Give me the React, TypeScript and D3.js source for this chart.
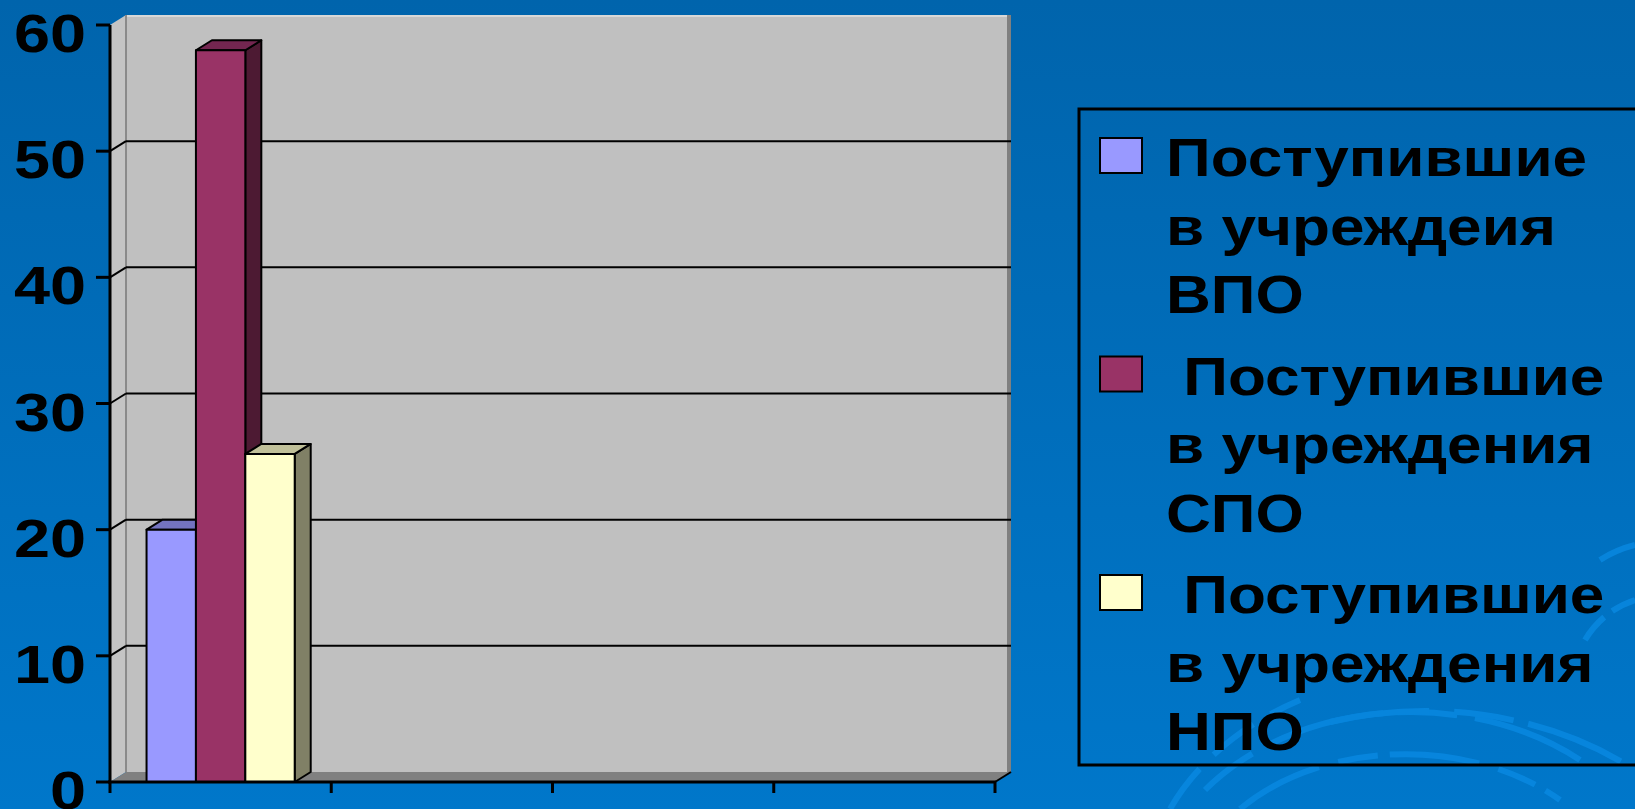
import React from "react";
import * as d3 from "d3";

const categories = ["1", "2", "3", "4"];
const seriesNames = [
  ["Поступившие", "в учреждеия", "ВПО"],
  [" Поступившие", "в учреждения", "СПО"],
  [" Поступившие", "в учреждения", "НПО"],
];
const vpoValues: (number | null)[] = [20, null, null, null];
const spoValues: (number | null)[] = [58, null, null, null];
const npoValues: (number | null)[] = [26, null, null, null];
const yTicks = [0, 10, 20, 30, 40, 50, 60];

const seriesValues = [vpoValues, spoValues, npoValues];
const seriesColors = [
  { front: "#9999FF", side: "#4C4C80", top: "#7373C0" },
  { front: "#993366", side: "#4D1A33", top: "#732650" },
  { front: "#FFFFCC", side: "#808066", top: "#C0C099" },
];

const W = 1635;
const H = 809;
const DX = 16;
const DY = -10;
const FONT = "'Liberation Sans', Arial, sans-serif";
const STRETCH = 1.15;

export default function App() {
  const y = d3.scaleLinear().domain([0, 60]).range([782, 25]);
  const x0 = d3.scaleBand<string>().domain(categories).range([110, 995]).paddingInner(0).paddingOuter(0);
  const x1 = d3
    .scaleBand<number>()
    .domain([0, 1, 2])
    .range([0, x0.bandwidth()])
    .paddingInner(0)
    .paddingOuter(0.74);

  const x0Start = 110;
  const x0End = 995;
  const y0 = y(0);
  const yTop = y(60);

  const bars: React.ReactNode[] = [];
  categories.forEach((c, ci) => {
    seriesValues.forEach((vals, si) => {
      const v = vals[ci];
      if (v == null) return;
      const bx = (x0(c) as number) + (x1(si) as number);
      const bw = x1.bandwidth();
      const by = y(v);
      const col = seriesColors[si];
      bars.push(
        <g key={`b-${ci}-${si}`} stroke="#000" strokeWidth={2} strokeLinejoin="round">
          <polygon
            points={`${bx + bw},${by} ${bx + bw + DX},${by + DY} ${bx + bw + DX},${y0 + DY} ${bx + bw},${y0}`}
            fill={col.side}
          />
          <polygon
            points={`${bx},${by} ${bx + DX},${by + DY} ${bx + bw + DX},${by + DY} ${bx + bw},${by}`}
            fill={col.top}
          />
          <rect x={bx} y={by} width={bw} height={y0 - by} fill={col.front} />
        </g>
      );
    });
  });

  const legendBaseY = 176;
  const entryStep = 218.5;
  const lineStep = 68.5;

  return (
    <svg
      width={W}
      height={H}
      viewBox={`0 0 ${W} ${H}`}
      style={{ position: "absolute", left: 0, top: 0, display: "block" }}
      fontFamily={FONT}
    >
      <defs>
        <linearGradient id="bg" x1="0" y1="0" x2="0" y2="1">
          <stop offset="0" stopColor="#0064AC" />
          <stop offset="1" stopColor="#0077CA" />
        </linearGradient>
      </defs>
      <rect x={0} y={0} width={W} height={H} fill="url(#bg)" />

      {/* decorative ripples */}
      <g fill="none" stroke="#0A8BE4" strokeWidth={6} opacity={0.75}>
        <path d="M1205,790 A260,200 0 0 1 1580,760" strokeDasharray="60 18 120 14" />
        <path d="M1240,809 A220,160 0 0 1 1560,800" strokeDasharray="90 20 40 12" />
        <path d="M1170,809 A300,230 0 0 1 1300,700" strokeDasharray="50 20" />
        <path d="M1330,722 A330,260 0 0 1 1635,770" strokeDasharray="100 25 60 15" />
        <path d="M1600,560 A120,120 0 0 1 1635,545" />
        <path d="M1585,640 A90,90 0 0 1 1635,600" strokeDasharray="30 10" />
      </g>

      {/* back wall */}
      <rect
        x={x0Start + DX}
        y={yTop + DY}
        width={x0End + DX - (x0Start + DX)}
        height={y0 - yTop}
        fill="#C0C0C0"
      />
      <line x1={x0Start + DX} y1={yTop + DY + 1} x2={x0End + DX} y2={yTop + DY + 1} stroke="#D8D8D8" strokeWidth={2} />
      <line x1={x0End + DX - 2} y1={yTop + DY} x2={x0End + DX - 2} y2={y0 + DY} stroke="#808080" strokeWidth={4} />
      {/* side wall */}
      <polygon
        points={`${x0Start},${y0} ${x0Start},${yTop} ${x0Start + DX},${yTop + DY} ${x0Start + DX},${y0 + DY}`}
        fill="#C4C4C4"
      />
      <line x1={x0Start + DX} y1={yTop + DY} x2={x0Start + DX} y2={y0 + DY} stroke="#8A8A8A" strokeWidth={2} />
      {/* floor */}
      <polygon
        points={`${x0Start},${y0} ${x0End},${y0} ${x0End + DX},${y0 + DY} ${x0Start + DX},${y0 + DY}`}
        fill="#808080"
      />

      {/* gridlines */}
      {yTicks.filter((t) => t > 0 && t < 60).map((t) => (
        <g key={`g${t}`} stroke="#000" strokeWidth={2}>
          <line x1={x0Start + DX} y1={y(t) + DY} x2={x0End + DX} y2={y(t) + DY} />
          <line x1={x0Start} y1={y(t)} x2={x0Start + DX} y2={y(t) + DY} />
        </g>
      ))}
      <line x1={x0End} y1={y0} x2={x0End + DX} y2={y0 + DY} stroke="#000" strokeWidth={2} />

      {bars}

      {/* axes */}
      <line x1={x0Start} y1={yTop} x2={x0Start} y2={y0} stroke="#000" strokeWidth={3} />
      <line x1={x0Start - 2} y1={y0} x2={x0End + 1} y2={y0} stroke="#000" strokeWidth={3} />
      {yTicks.map((t) => (
        <g key={`yt${t}`}>
          <line x1={96} y1={y(t)} x2={x0Start} y2={y(t)} stroke="#000" strokeWidth={3} />
          <text
            transform={`translate(86,${y(t) + 27}) scale(1.2,1)`}
            textAnchor="end"
            fontSize={54}
            fontWeight="bold"
            fill="#000"
          >
            {t}
          </text>
        </g>
      ))}
      {[...categories.map((c) => x0(c) as number), x0End].map((xv, i) => (
        <line key={`xt${i}`} x1={xv} y1={y0} x2={xv} y2={y0 + 11} stroke="#000" strokeWidth={3} />
      ))}

      {/* legend */}
      <path d={`M${W + 5},109 L1079,109 L1079,765 L${W + 5},765`} fill="none" stroke="#000" strokeWidth={3} />
      {seriesNames.map((lines, i) => {
        const by = legendBaseY + i * entryStep;
        return (
          <g key={`lg${i}`}>
            <rect x={1100} y={by - 38} width={42} height={35} fill={seriesColors[i].front} stroke="#000" strokeWidth={2} />
            {lines.map((ln, li) => (
              <text
                key={li}
                transform={`translate(1166,${by + li * lineStep}) scale(${STRETCH},1)`}
                fontSize={54}
                fontWeight="bold"
                fill="#000"
                style={{ whiteSpace: "pre" }}
              >
                {ln}
              </text>
            ))}
          </g>
        );
      })}
    </svg>
  );
}
